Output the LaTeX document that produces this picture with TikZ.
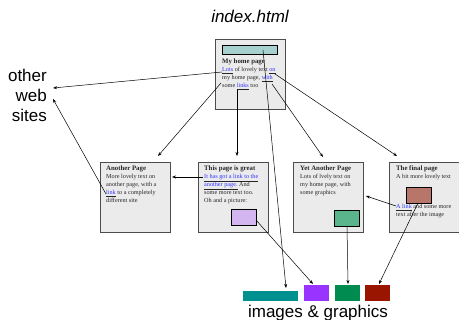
\documentclass[tikz,border=0pt]{standalone}
\usepackage{fontspec}
\setmainfont{Liberation Serif}
\newfontfamily\arialf{Liberation Sans}
\usetikzlibrary{arrows.meta}
\definecolor{boxfill}{HTML}{EBEBEB}
\definecolor{tealbar}{HTML}{A6D1CF}
\definecolor{picpurple}{HTML}{D3B5EF}
\definecolor{picgreen}{HTML}{5BB58C}
\definecolor{picbrown}{HTML}{B8766B}
\definecolor{imgteal}{HTML}{009090}
\definecolor{imgpurple}{HTML}{9933FF}
\definecolor{imggreen}{HTML}{008C50}
\definecolor{imgred}{HTML}{991500}
\definecolor{linkblue}{HTML}{3333FF}
\newcommand\lk[1]{\underline{\textcolor{linkblue}{#1}}}
\newcommand\ttl[1]{{\fontsize{6.8}{7.8}\selectfont\bfseries #1}}
\tikzset{
  page/.style={draw=black!70, line width=0.8pt, fill=boxfill, minimum width=70pt, minimum height=70pt, anchor=north west, inner sep=0pt},
  pageshadow/.style={fill=black!55, minimum width=70pt, minimum height=70pt, anchor=north west, inner sep=0pt},
  pic/.style={draw=black, line width=1.1pt, anchor=north west, inner sep=0pt, minimum width=25pt, minimum height=16pt},
  img/.style={anchor=north west, inner sep=0pt},
  bodytext/.style={anchor=base west, inner sep=0pt, align=left, font=\fontsize{6.2}{7.8}\selectfont, text=black!85},
  bigtext/.style={font=\arialf\fontsize{17}{20}\selectfont, inner sep=0pt},
  arr/.style={-{Stealth[length=4pt,width=3pt]}, line width=0.5pt, black}
}
\begin{document}
\begin{tikzpicture}[x=1pt,y=-1pt]
\useasboundingbox (0,0) rectangle (459,320);
\fill[white] (0,0) rectangle (459,320);

% titles
\node[bigtext, font=\arialf\itshape\fontsize{17}{20}\selectfont, anchor=base] (title) at (250,23) {index.html};
\node[bigtext, anchor=base east, align=right] (web) at (47,122) {other\\web\\sites};
\node[bigtext, anchor=base] (imgs) at (318,318) {images \& graphics};

% shadows
\node[pageshadow] (sh0) at (216,40) {};
\node[pageshadow] (sh1) at (101,163) {};
\node[pageshadow] (sh2) at (199,163) {};
\node[pageshadow] (sh3) at (294,163) {};
\node[pageshadow] (sh4) at (390,163) {};

% pages
\node[page] (home) at (215,39) {};
\node[page] (another) at (100,162) {};
\node[page] (great) at (198,162) {};
\node[page] (yet) at (293,162) {};
\node[page] (final) at (389,162) {};

% pictures inside pages
\node[pic, fill=tealbar, minimum width=55pt, minimum height=9pt] (bar) at (222,45) {};
\node[pic, fill=picpurple] (ppic) at (231,209) {};
\node[pic, fill=picgreen] (gpic) at (334,210) {};
\node[pic, fill=picbrown] (bpic) at (406,187) {};

% page texts (anchor = baseline of the last line)
\node[bodytext] (thome) at (222,87.4) {\ttl{My home page}\\\lk{Lots} of lovely text \lk{on}\\my home page, \lk{with}\\some \lk{links} too};
\node[bodytext] (tanother) at (106,202.2) {\ttl{Another Page}\\More lovely text on\\another page, with a\\\lk{link} to a completely\\different site};
\node[bodytext] (tgreat) at (204,202.2) {\ttl{This page is great}\\\lk{It has got a link to the}\\\lk{another page.} And\\some more text too.\\Oh and a picture:};
\node[bodytext] (tyet) at (300,194.4) {\ttl{Yet Another Page}\\Lots of lvely text on\\my home page, with\\some graphics};
\node[bodytext] (tfinal) at (396,178.8) {\ttl{The final page}\\A bit more lovely text};
\node[bodytext] (tfinalb) at (396,216.8) {\lk{A link} and some more\\text after the image};

% images & graphics
\node[img, fill=imgteal, minimum width=55pt, minimum height=10pt] (iteal) at (243,291) {};
\node[img, fill=imgpurple, minimum width=25pt, minimum height=16pt] (ipurple) at (304,285) {};
\node[img, fill=imggreen, minimum width=25pt, minimum height=16pt] (igreen) at (335,285) {};
\node[img, fill=imgred, minimum width=25pt, minimum height=16pt] (ired) at (365,285) {};

% connector coordinates
\coordinate (sLots) at (222,72);
\coordinate (eWeb1) at (53,88);
\coordinate (sLinkA) at (106,194);
\coordinate (eWeb2) at (53,99);
\coordinate (sMy) at (221,83);
\coordinate (eAnother) at (158,156);
\coordinate (sLinks) at (237,90);
\coordinate (eGreat) at (237,156);
\coordinate (sWith) at (272,84);
\coordinate (eYet) at (323,157);
\coordinate (sOn) at (275,74);
\coordinate (eFinal) at (397,156);
\coordinate (sBar) at (263,50);
\coordinate (eTeal) at (286,288);
\coordinate (sGot) at (203,177);
\coordinate (eAnotherR) at (172,177);
\coordinate (sPpic) at (256,220);
\coordinate (ePurple) at (313,284);
\coordinate (sGpic) at (347,226);
\coordinate (eGreen) at (348,284);
\coordinate (sAlink) at (396,206);
\coordinate (eYetR) at (366,196);
\coordinate (sBpic) at (418,203);
\coordinate (eRed) at (379,284);

% connectors
\draw[arr] (sLots) -- (eWeb1);
\draw[arr] (sLinkA) -- (eWeb2);
\draw[arr] (sMy) -- (eAnother);
\draw[arr] (sLinks) -- (eGreat);
\draw[arr] (sWith) -- (eYet);
\draw[arr] (sOn) -- (eFinal);
\draw[arr] (sBar) -- (eTeal);
\draw[arr] (sGot) -- (eAnotherR);
\draw[arr] (sPpic) -- (ePurple);
\draw[arr] (sGpic) -- (eGreen);
\draw[arr] (sAlink) -- (eYetR);
\draw[arr] (sBpic) -- (eRed);
\end{tikzpicture}
\end{document}
